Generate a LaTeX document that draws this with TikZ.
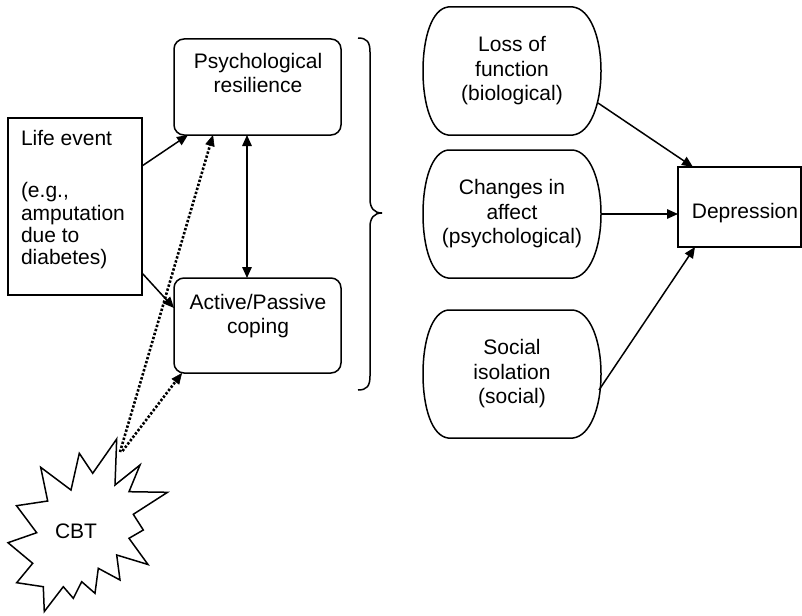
\documentclass[tikz,border=0pt]{standalone}
\usepackage{fontspec}
\setmainfont{Liberation Sans}
\usetikzlibrary{arrows.meta}
\begin{document}
\begin{tikzpicture}[x=1pt,y=-1pt,
  ln/.style={line width=1.5pt},
  sq/.style={ln, draw, inner sep=0pt, outer sep=0pt, anchor=north west},
  rbox/.style={sq, rounded corners=10pt},
  txt/.style={inner sep=0pt, outer sep=0pt, align=center, font=\fontsize{21}{24.5}\selectfont},
  oval/.style={txt, minimum width=178pt, minimum height=128pt},
  ar/.style={ln, -{Triangle[length=11pt,width=9.5pt]}},
  dar/.style={line width=2.6pt, dash pattern=on 2.4pt off 1.8pt, -{Triangle[length=11pt,width=9.5pt,line width=0.6pt]}},
]
\useasboundingbox (0,0) rectangle (802,615);

% left boxes
\node[sq, minimum width=134pt, minimum height=177pt] (life) at (8,118) {};
\node[txt, align=left, anchor=west, font=\fontsize{21}{22.4}\selectfont] (lifet) at (21,200) {Life event\\[29.5pt](e.g.,\\amputation\\due to\\diabetes)};
\node[rbox, minimum width=167pt, minimum height=96pt] (res) at (174,39) {};
\node[txt] (rest) at (258,73) {Psychological\\resilience};
\node[rbox, minimum width=167pt, minimum height=95pt] (cop) at (174,278) {};
\node[txt] (copt) at (258,316) {Active/Passive\\coping};

% depression
\node[sq, minimum width=123pt, minimum height=80pt] (dep) at (678,167) {};
\node[txt] (dept) at (745,213) {Depression};

% ovals
\node[oval] (o1) at (512,71) {Loss of\\function\\(biological)};
\node[oval] (o2) at (512,214) {Changes in\\affect\\(psychological)};
\node[oval] (o3) at (512,374) {Social\\isolation\\(social)};
\foreach \n in {o1,o2,o3}
  \draw[ln] ([xshift=25pt]\n.north west) -- ([xshift=-28pt]\n.north east)
    .. controls +(17pt,-2pt) and +(0,34pt) .. (\n.east)
    .. controls +(0,-34pt) and +(17pt,2pt) .. ([xshift=-28pt]\n.south east)
    -- ([xshift=25pt]\n.south west)
    .. controls +(-16pt,2pt) and +(0,-34pt) .. (\n.west)
    .. controls +(0,34pt) and +(-16pt,-2pt) .. cycle;

% brace
\draw[ln] (358,38) .. controls (367,38) and (370,42) .. (370,52) -- (370,199)
  .. controls (370,208) and (374,213) .. (382,213)
  .. controls (374,213) and (370,218) .. (370,227) -- (370,376)
  .. controls (370,386) and (367,390) .. (358,390);

% CBT star
\draw[ln, line join=miter] (116.7,439) -- (115,485) -- (140,465) -- (129,491.7) -- (167.5,492.3)
  -- (133.3,514.3) -- (143.3,530) -- (129,538.3) -- (148,564.5) -- (116.7,555) -- (120,580)
  -- (98.3,568.3) -- (95,593.3) -- (81.7,581.7) -- (73.3,598.3) -- (63.3,586.7) -- (44.3,611.5)
  -- (43.3,586.7) -- (16.7,582.7) -- (32.7,563.3) -- (8,542.7) -- (36.7,532.7) -- (16.5,505.7)
  -- (47.7,501) -- (40.7,467.3) -- (71,490) -- (79.3,453.3) -- (92.7,473.3) -- cycle;
\node[txt] (cbt) at (76,531) {CBT};
\coordinate (c1) at (120,452);
\coordinate (c2) at (122.5,451);

% connectors
\draw[ar] ([yshift=40.5pt]life.east) -- ([xshift=14pt]res.south west);
\draw[ar] ([yshift=-66.5pt]life.east) -- ([yshift=17.5pt]cop.west);
\draw[ln, {Triangle[length=11pt,width=9.5pt]}-{Triangle[length=11pt,width=9.5pt]}] ([xshift=73pt]res.south west) -- ([xshift=73pt]cop.north west);
\draw[dar] (c1) -- ([xshift=39pt]res.south west);
\draw[dar] (c2) -- ([xshift=8pt]cop.south west);
\draw[ar] ([xshift=-3pt,yshift=-32pt]o1.east) -- ([xshift=15pt]dep.north west);
\draw[ar] (o2.east) -- ([yshift=-7pt]dep.west);
\draw[ar] ([xshift=-2pt,yshift=-16pt]o3.east) -- ([xshift=17pt]dep.south west);
\end{tikzpicture}
\end{document}
